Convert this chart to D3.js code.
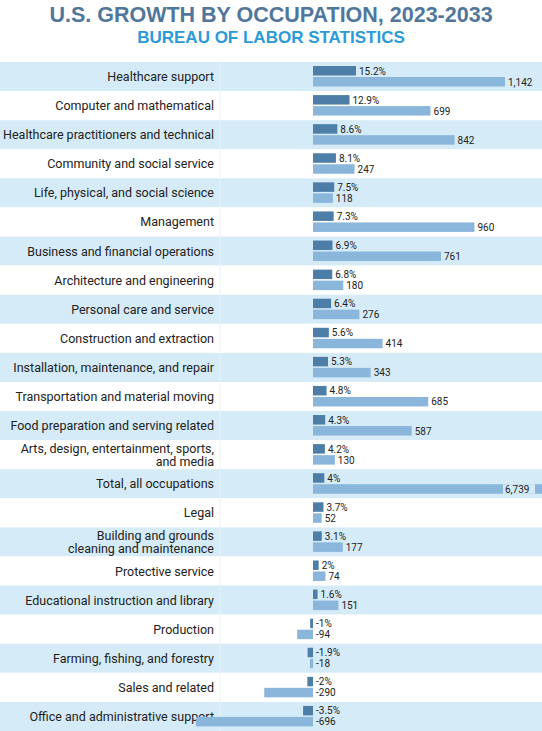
<!DOCTYPE html>
<html><head><meta charset="utf-8">
<script src="https://cdn.jsdelivr.net/npm/d3@7"></script>
<style>body{margin:0;background:#fff}svg{display:block}</style>
</head><body><div class="canvas"></div>
<script>
const occupations = ["Healthcare support","Computer and mathematical","Healthcare practitioners and technical","Community and social service","Life, physical, and social science","Management","Business and financial operations","Architecture and engineering","Personal care and service","Construction and extraction","Installation, maintenance, and repair","Transportation and material moving","Food preparation and serving related","Arts, design, entertainment, sports,|and media","Total, all occupations","Legal","Building and grounds|cleaning and maintenance","Protective service","Educational instruction and library","Production","Farming, fishing, and forestry","Sales and related","Office and administrative support"]
const growthPct = [15.2,12.9,8.6,8.1,7.5,7.3,6.9,6.8,6.4,5.6,5.3,4.8,4.3,4.2,4,3.7,3.1,2,1.6,-1,-1.9,-2,-3.5]
const jobsAdded = [1142,699,842,247,118,960,761,180,276,414,343,685,587,130,6739,52,177,74,151,-94,-18,-290,-696]

const W = 542, H = 731, topY = 62
const font = "'Liberation Sans Narrow','Roboto',sans-serif"
const svg = d3.select('.canvas').append('svg').attr('width', W).attr('height', H)

svg.append('text').attr('x', W/2).attr('y', 22).attr('text-anchor','middle')
    .attr('font-family','Liberation Sans, Arial, sans-serif').attr('font-weight','bold')
    .attr('font-size', 21.5).attr('fill','#50779b').text('U.S. GROWTH BY OCCUPATION, 2023-2033')
svg.append('text').attr('x', W/2).attr('y', 43).attr('text-anchor','middle')
    .attr('font-family','Liberation Sans, Arial, sans-serif').attr('font-weight','bold')
    .attr('font-size', 17).attr('fill','#2a9bd8').text('BUREAU OF LABOR STATISTICS')

const y = d3.scaleBand().domain(d3.range(occupations.length)).range([topY, H])
const xPct = d3.scaleLinear().domain([0, 15.2]).range([313, 356])
const xJobs = d3.scaleLinear().domain([0, 1142]).range([313, 505])

const row = svg.selectAll('g.row').data(occupations).enter().append('g')
    .attr('transform', (d, i) => `translate(0, ${y(i)})`)

row.append('rect').attr('width', W).attr('height', y.bandwidth())
    .attr('fill', (d, i) => i % 2 ? '#ffffff' : '#d5ebf7')
row.append('line').attr('x1', 220).attr('x2', 220).attr('y2', y.bandwidth())
    .attr('stroke', (d, i) => i % 2 ? '#eef4f8' : '#e4f2fa')

row.each(function(d) {
    const lines = d.split('|')
    const t = d3.select(this).append('text').attr('text-anchor','end')
        .attr('font-family', font).attr('font-size', 12.5).attr('fill','#222')
    lines.forEach((l, k) => t.append('tspan').attr('x', 214)
        .attr('y', y.bandwidth()/2 + 4.5 + (k - (lines.length-1)/2) * 13).text(l))
})

const bh = 9.5
row.append('rect').attr('y', 4).attr('height', bh).attr('fill','#4d7ea8')
    .attr('x', (d, i) => Math.min(xPct(0), xPct(growthPct[i])))
    .attr('width', (d, i) => Math.abs(xPct(growthPct[i]) - xPct(0)))
row.append('rect').attr('y', 15).attr('height', bh).attr('fill','#8ab6dc')
    .attr('x', (d, i) => Math.min(xJobs(0), xJobs(jobsAdded[i])))
    .attr('width', (d, i) => jobsAdded[i] >= 0
        ? Math.min(W, xJobs(jobsAdded[i])) - xJobs(0) : xJobs(0) - xJobs(jobsAdded[i]))

const fmt = d3.format(',')
row.append('text').attr('y', 12.5).attr('font-family', font).attr('font-size', 10).attr('fill','#222')
    .attr('x', (d, i) => Math.max(xPct(0), xPct(growthPct[i])) + 3)
    .text((d, i) => growthPct[i] + '%')
row.each(function(d, i) {
    const g = d3.select(this)
    const over = xJobs(jobsAdded[i]) > W - 10
    const lx = over ? 505 : Math.max(xJobs(0), xJobs(jobsAdded[i])) + 3
    if (over) g.append('rect').attr('x', lx - 2).attr('y', 15).attr('width', 32).attr('height', bh).attr('fill','#d5ebf7')
    g.append('text').attr('x', lx).attr('y', 23.5).attr('font-family', font).attr('font-size', 10)
        .attr('fill','#222').text(fmt(jobsAdded[i]).replace('−','-'))
})
</script></body></html>
